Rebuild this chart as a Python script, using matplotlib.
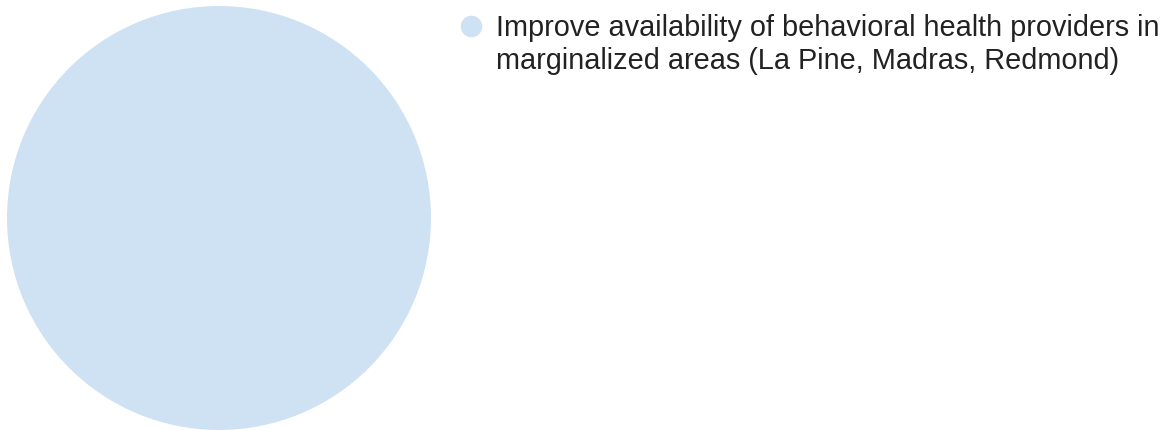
import matplotlib
matplotlib.use("Agg")
import matplotlib.pyplot as plt

# ── data ──────────────────────────────────────────────────────────────────────
labels = ["Improve availability of behavioral health providers in\n"
          "marginalized areas (La Pine, Madras, Redmond)"]
values = [100]
colors = ["#cfe2f3"]

plt.rcParams['font.family'] = ['Liberation Sans', 'DejaVu Sans']

W, H = 1171, 430
fig = plt.figure(figsize=(W / 100, H / 100), dpi=100)
ax = fig.add_axes([7 / W, 0 / H, 424 / W, 424 / H])
wedges, _ = ax.pie(values, colors=colors, startangle=90, counterclock=False,
                   radius=1.0, wedgeprops=dict(linewidth=0))
ax.set_xlim(-1, 1)
ax.set_ylim(-1, 1)
ax.set_aspect('equal')
ax.axis('off')

# legend drawn by hand so the marker sits on the first line
for i, (lab, c) in enumerate(zip(labels, colors)):
    y0 = 26 + i * 70
    fig.lines.append(plt.Line2D([471 / W], [1 - y0 / H], marker='o', markersize=14.5,
                                markerfacecolor=c, markeredgecolor=c, linestyle='none',
                                transform=fig.transFigure))
    fig.text(496 / W, 1 - (y0 - 12) / H, lab, fontsize=20.8, color='#222222',
             ha='left', va='top', linespacing=1.24)

fig.savefig("out.png", dpi=100)
